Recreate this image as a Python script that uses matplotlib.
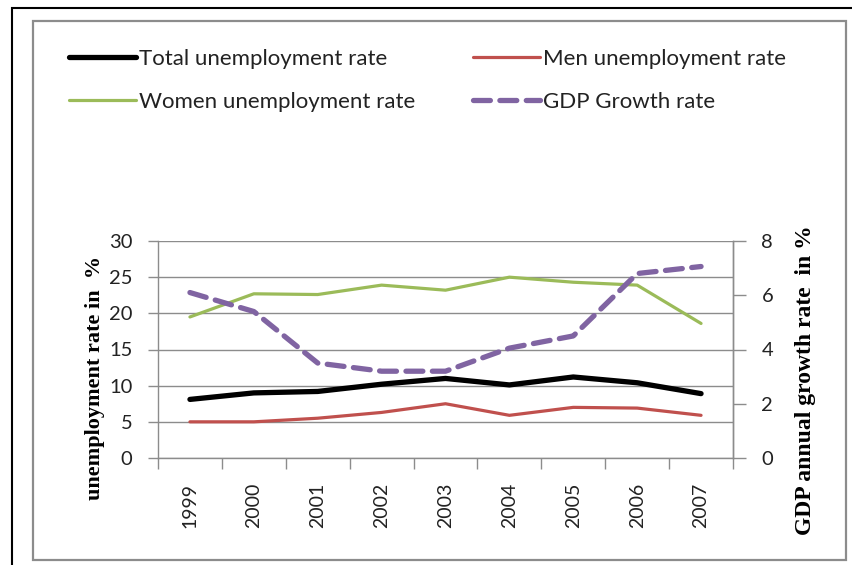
import matplotlib
matplotlib.use("Agg")
import matplotlib.pyplot as plt
from matplotlib.patches import Rectangle

years = ["1999", "2000", "2001", "2002", "2003", "2004", "2005", "2006", "2007"]
total = [8.1, 9.0, 9.2, 10.2, 11.0, 10.1, 11.2, 10.4, 8.9]
men = [5.0, 5.0, 5.5, 6.3, 7.5, 5.9, 7.0, 6.9, 5.9]
women = [19.5, 22.7, 22.6, 23.9, 23.2, 25.0, 24.3, 23.9, 18.6]
gdp = [6.1, 5.4, 3.5, 3.2, 3.2, 4.05, 4.5, 6.8, 7.06]

W, H = 853, 565
fig = plt.figure(figsize=(W / 100, H / 100), dpi=100)
fig.patch.set_facecolor("white")

def fx(px):
    return px / W

def fy(py):
    return 1 - py / H

# frames
fig.patches.append(Rectangle((fx(12), fy(575)), fx(900), 575 / H - 8 / H, transform=fig.transFigure,
                             fill=False, edgecolor="black", linewidth=1.5, zorder=0))
fig.patches.append(Rectangle((fx(33), fy(560)), fx(846 - 33), (560 - 21) / H, transform=fig.transFigure,
                             fill=False, edgecolor="#8c8c8c", linewidth=1.6, zorder=0))

ax = fig.add_axes([fx(158), fy(458), fx(733 - 158), (458 - 241) / H])
ax2 = ax.twinx()

x = list(range(len(years)))
grid_c = "#8c8c8c"
tick_font = "Lato"

l_total, = ax.plot(x, total, color="black", linewidth=3.8, solid_capstyle="round", zorder=5)
l_men, = ax.plot(x, men, color="#C0504D", linewidth=2.3, solid_capstyle="round", zorder=4)
l_women, = ax.plot(x, women, color="#9BBB59", linewidth=2.3, solid_capstyle="round", zorder=4)
l_gdp, = ax2.plot(x, gdp, color="#8064A2", linewidth=3.8, linestyle=(0, (3.2, 1.8)),
                  dash_capstyle="round", zorder=6)

ax.set_xlim(-0.5, len(years) - 0.5)
ax.set_ylim(0, 30)
ax.set_yticks([0, 5, 10, 15, 20, 25, 30])
ax2.set_ylim(0, 8)
ax2.set_yticks([0, 2, 4, 6, 8])

ax.yaxis.grid(True, color=grid_c, linewidth=1.0)
ax.set_axisbelow(True)

ax.set_xticks([i + 0.5 for i in range(-1, len(years))], minor=False)
ax.set_xticklabels([])
ax.set_xticks(x, minor=True)
ax.set_xticklabels(years, minor=True, rotation=90, fontsize=14, family=tick_font, color="#222222")
ax.tick_params(axis="x", which="major", length=8, color=grid_c, width=1.0, direction="out")
ax.tick_params(axis="x", which="minor", length=0, pad=18)
ax.tick_params(axis="y", length=7, color=grid_c, width=1.0, pad=11.5)
ax2.tick_params(axis="y", length=9, color=grid_c, width=1.0, pad=11.5)
for lbl in ax.get_yticklabels() + ax2.get_yticklabels():
    lbl.set_fontsize(14.5)
    lbl.set_family(tick_font)
    lbl.set_color("#222222")

for a in (ax, ax2):
    a.spines["top"].set_visible(False)
    for s in ("left", "right", "bottom"):
        a.spines[s].set_color(grid_c)
        a.spines[s].set_linewidth(1.0)
ax2.spines["left"].set_visible(False)
ax2.spines["bottom"].set_visible(False)
ax.patch.set_alpha(0)

fig.text(fx(95), fy(378), "unemployment rate in  %", rotation=90, ha="center", va="center",
         family="Liberation Serif", fontweight="bold", fontsize=16)
fig.text(fx(806), fy(380), "GDP annual growth rate  in %", rotation=90, ha="center", va="center",
         family="Liberation Serif", fontweight="bold", fontsize=17)

handles = [l_total, l_women, l_men, l_gdp]
labels = ["Total unemployment rate", "Women unemployment rate", "Men unemployment rate", "GDP Growth rate"]
leg = fig.legend(handles, labels, ncol=2, frameon=False, loc="upper left",
                 bbox_to_anchor=(fx(60), fy(40)), bbox_transform=fig.transFigure,
                 prop={"family": tick_font, "size": 16}, handlelength=3.0, handletextpad=0.15,
                 columnspacing=2.6, labelspacing=1.05, borderaxespad=0)
for t in leg.get_texts():
    t.set_color("#222222")

fig.savefig("out.png", dpi=100, facecolor="white")
